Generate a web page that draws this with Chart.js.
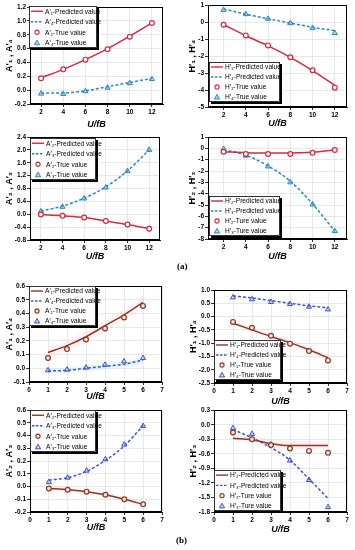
<!DOCTYPE html>
<html>
<head>
<meta charset="utf-8">
<script src="https://cdn.jsdelivr.net/npm/chart.js@4.4.1/dist/chart.umd.min.js"></script>
<style>
  body { margin: 0; background: #fff; width: 355px; height: 550px; position: relative; overflow: hidden; }
  canvas { position: absolute; }
  .tag { position: absolute; font: bold 9px "Liberation Serif", "DejaVu Serif", serif; color: #000; }
</style>
</head>
<body>
<canvas id="c1" width="178" height="130" style="left:0;top:0"></canvas>
<canvas id="c2" width="177" height="130" style="left:178px;top:0"></canvas>
<canvas id="c3" width="178" height="135" style="left:0;top:130px"></canvas>
<canvas id="c4" width="177" height="135" style="left:178px;top:130px"></canvas>
<div class="tag" style="left:177px;top:261px">(a)</div>
<canvas id="c5" width="178" height="127" style="left:0;top:278px"></canvas>
<canvas id="c6" width="177" height="129" style="left:178px;top:278px"></canvas>
<canvas id="c7" width="178" height="145" style="left:0;top:405px"></canvas>
<canvas id="c8" width="177" height="145" style="left:178px;top:405px"></canvas>
<div class="tag" style="left:176px;top:535px">(b)</div>

<script>
// ===============================
// DATA
// ===============================

const xA = [2, 4, 6, 8, 10, 12];
const xB = [1, 2, 3, 4, 5, 6];

// (a) A'1, A'4
const a1Pred = [0.18, 0.3, 0.44, 0.6, 0.78, 0.97];
const a1True = [0.17, 0.3, 0.44, 0.59, 0.77, 0.97];
const a4Pred = [-0.04, -0.04, -0.01, 0.05, 0.11, 0.17];
const a4True = [-0.05, -0.055, -0.015, 0.035, 0.1, 0.16];

// (a) H'1, H'4
const h1Pred = [-0.15, -0.8, -1.4, -2.07, -2.85, -3.72];
const h1True = [-0.15, -0.78, -1.37, -2.07, -2.83, -3.86];
const h4Pred = [0.78, 0.47, 0.2, -0.05, -0.3, -0.5];
const h4True = [0.72, 0.47, 0.2, -0.06, -0.35, -0.64];

// (a) A'2, A'3
const a2Pred = [-0.01, -0.05, -0.1, -0.21, -0.32, -0.45];
const a2True = [-0.01, -0.05, -0.1, -0.21, -0.32, -0.45];
const a3Pred = [0.1, 0.25, 0.5, 0.85, 1.35, 2.0];
const a3True = [0.09, 0.23, 0.49, 0.83, 1.34, 2.0];

// (a) H'2, H'3
const h2Pred = [-0.3, -0.38, -0.42, -0.42, -0.35, -0.15];
const h2True = [-0.3, -0.5, -0.5, -0.5, -0.4, -0.15];
const h3Pred = [-0.1, -0.6, -1.55, -2.9, -4.9, -7.3];
const h3True = [-0.05, -0.65, -1.6, -3.0, -4.95, -7.3];

// (b) A'1, A'4
const bA1Pred = [0.115, 0.165, 0.23, 0.31, 0.39, 0.48];
const bA1True = [0.075, 0.14, 0.21, 0.29, 0.37, 0.455];
const bA4Pred = [-0.02, -0.015, 0.0, 0.015, 0.03, 0.06];
const bA4True = [-0.015, -0.01, 0.005, 0.025, 0.05, 0.075];
const bA1BandHi = [0.15, 0.2, 0.27, 0.35, 0.43, 0.52];
const bA1BandLo = [0.08, 0.13, 0.19, 0.27, 0.35, 0.44];
const bA4BandHi = [0.0, 0.005, 0.02, 0.035, 0.055, 0.085];
const bA4BandLo = [-0.04, -0.035, -0.02, -0.005, 0.01, 0.035];

// (b) H'1, H'4
const bH1Pred = [-0.25, -0.5, -0.75, -0.98, -1.25, -1.55];
const bH1True = [-0.2, -0.42, -0.72, -1.02, -1.3, -1.65];
const bH4Pred = [0.78, 0.7, 0.6, 0.5, 0.4, 0.33];
const bH4True = [0.72, 0.65, 0.55, 0.47, 0.37, 0.27];
const bH1BandHi = [-0.15, -0.4, -0.65, -0.88, -1.13, -1.42];
const bH1BandLo = [-0.35, -0.6, -0.85, -1.08, -1.37, -1.68];

// (b) A'2, A'3
const bA2Pred = [-0.015, -0.025, -0.04, -0.065, -0.1, -0.14];
const bA2True = [-0.015, -0.025, -0.04, -0.065, -0.1, -0.14];
const bA3Pred = [0.05, 0.07, 0.12, 0.205, 0.32, 0.48];
const bA3True = [0.035, 0.07, 0.125, 0.215, 0.33, 0.475];
const bA2BandHi = [0.0, -0.01, -0.025, -0.048, -0.08, -0.115];
const bA2BandLo = [-0.03, -0.04, -0.055, -0.082, -0.12, -0.165];

// (b) H'2, H'3
const bH2Pred = [-0.28, -0.31, -0.39, -0.43, -0.43, -0.43];
const bH2True = [-0.16, -0.3, -0.42, -0.49, -0.54, -0.58];
const bH3Pred = [-0.1, -0.27, -0.47, -0.73, -1.12, -1.52];
const bH3True = [-0.07, -0.19, -0.41, -0.74, -1.14, -1.7];
const bH2BandHi = [-0.2, -0.22, -0.3, -0.33, -0.33, -0.33];
const bH2BandLo = [-0.32, -0.38, -0.46, -0.5, -0.5, -0.5];

// tick labels
const ticksXA = [2, 4, 6, 8, 10, 12];
const ticksXB = [0, 1, 2, 3, 4, 5, 6, 7];
const ticksY1 = [-0.2, 0, 0.2, 0.4, 0.6, 0.8, 1.0, 1.2];
const ticksY2 = [-5, -4, -3, -2, -1, 0, 1];
const ticksY3 = [-0.8, -0.4, 0, 0.4, 0.8, 1.2, 1.6, 2.0, 2.4];
const ticksY4 = [-8, -7, -6, -5, -4, -3, -2, -1, 0, 1];
const ticksY5 = [-0.1, 0, 0.1, 0.2, 0.3, 0.4, 0.5, 0.6];
const ticksY6 = [-2.5, -2.0, -1.5, -1.0, -0.5, 0, 0.5, 1.0];
const ticksY7 = [-0.2, -0.1, 0, 0.1, 0.2, 0.3, 0.4, 0.5, 0.6];
const ticksY8 = [-1.8, -1.5, -1.2, -0.9, -0.6, -0.3, 0, 0.3];

// ===============================
// STYLE
// ===============================

const FONT = '"Liberation Sans", Arial, sans-serif';
const RED = "#d42b3f", BLUE_A = "#2b87c0", TRI_A = "rgba(90,160,215,0.45)";
const BROWN = "#8a3b27", BLUE_B = "#3f55c6", TRI_B = "rgba(110,130,225,0.35)", CIRC_B = "#f3e4d6";
const PINK = "rgba(255,185,200,0.2)", CYAN = "rgba(170,238,238,0.3)";

const pts = (xs, ys) => xs.map((x, i) => ({ x, y: ys[i] }));

function solid(label, xs, ys, color) {
  return { label, kind: "solid", data: pts(xs, ys), borderColor: color, backgroundColor: color,
    borderWidth: 1.5, pointRadius: 0, cubicInterpolationMode: "monotone", fill: false, order: 1 };
}
function dashed(label, xs, ys, color) {
  return { label, kind: "dash", data: pts(xs, ys), borderColor: color, backgroundColor: color,
    borderWidth: 1.5, borderDash: [3, 2], pointRadius: 0, cubicInterpolationMode: "monotone", fill: false, order: 1 };
}
function circles(label, xs, ys, color, fillc) {
  return { label, kind: "circle", data: pts(xs, ys), showLine: false, borderColor: color, backgroundColor: fillc,
    pointStyle: "circle", pointRadius: 2.4, pointBorderWidth: 1.2, order: 0 };
}
function triangles(label, xs, ys, color, fillc) {
  return { label, kind: "tri", data: pts(xs, ys), showLine: false, borderColor: color, backgroundColor: fillc,
    pointStyle: "triangle", pointRadius: 3, pointBorderWidth: 1, order: 0 };
}
function band(xs, hi, lo, color) {
  return [
    { band: true, data: pts(xs, hi), borderWidth: 0, pointRadius: 0, backgroundColor: color,
      fill: "+1", cubicInterpolationMode: "monotone", order: 5 },
    { band: true, data: pts(xs, lo), borderWidth: 0, pointRadius: 0, backgroundColor: color,
      fill: false, cubicInterpolationMode: "monotone", order: 5 }
  ];
}

// frame around the plot box
const frame = {
  id: "frame",
  afterDatasetsDraw(chart) {
    const a = chart.chartArea, ctx = chart.ctx;
    ctx.save();
    ctx.strokeStyle = "#000";
    ctx.lineWidth = 1;
    ctx.strokeRect(Math.round(a.left) + 0.5, Math.round(a.top) + 0.5,
      Math.round(a.right - a.left) - 1, Math.round(a.bottom - a.top) - 1);
    ctx.restore();
  }
};

// boxed legend with drop shadow, drawn inside the plot
const boxLegend = {
  id: "boxLegend",
  afterDatasetsDraw(chart, args, o) {
    const ctx = chart.ctx;
    const items = chart.data.datasets.filter(d => d.kind);
    ctx.save();
    ctx.fillStyle = "#000";
    ctx.fillRect(o.x + 2, o.y + 2, o.w, o.h);
    ctx.fillStyle = "#fff";
    ctx.fillRect(o.x, o.y, o.w, o.h);
    ctx.strokeStyle = "#000";
    ctx.lineWidth = 0.8;
    ctx.strokeRect(o.x + 0.5, o.y + 0.5, o.w - 1, o.h - 1);
    const rowH = o.h / items.length;
    ctx.font = "6.6px " + FONT;
    ctx.textBaseline = "middle";
    items.forEach((d, i) => {
      const cy = o.y + rowH * (i + 0.5);
      const mx = o.x + 8;
      ctx.strokeStyle = d.borderColor;
      ctx.fillStyle = d.backgroundColor;
      ctx.beginPath();
      if (d.kind === "solid" || d.kind === "dash") {
        ctx.lineWidth = 1.4;
        ctx.setLineDash(d.kind === "dash" ? [2.5, 1.5] : []);
        ctx.moveTo(o.x + 2, cy);
        ctx.lineTo(o.x + 14, cy);
        ctx.stroke();
        ctx.setLineDash([]);
      } else if (d.kind === "circle") {
        ctx.lineWidth = 1.1;
        ctx.arc(mx, cy, 2.1, 0, Math.PI * 2);
        ctx.fill();
        ctx.stroke();
      } else {
        ctx.lineWidth = 1;
        ctx.moveTo(mx, cy - 2.6);
        ctx.lineTo(mx + 2.6, cy + 2);
        ctx.lineTo(mx - 2.6, cy + 2);
        ctx.closePath();
        ctx.fill();
        ctx.stroke();
      }
      ctx.fillStyle = "#000";
      ctx.fillText(d.label, o.x + 16, cy + 0.5);
    });
    ctx.restore();
  }
};

function axis(min, max, ticks, dec, title, size, titlePad, horizontal) {
  const tickFont = { family: FONT, size: 6.5, weight: "bold" };
  return {
    type: "linear", min, max,
    afterBuildTicks: s => { s.ticks = ticks.map(v => ({ value: v })); },
    afterFit: s => { if (horizontal) s.height = size; else s.width = size; },
    grid: { color: "#e2e2e2", lineWidth: 0.8, tickColor: "#000", tickLength: 3 },
    border: { color: "#000", width: 1 },
    ticks: { font: tickFont, color: "#000", padding: 1, autoSkip: false, maxRotation: 0,
      callback: v => Number(v).toFixed(dec) },
    title: { display: true, text: title, color: "#000",
      font: { family: FONT, size: 9, weight: "bold", style: horizontal ? "italic" : "normal" },
      padding: horizontal ? { top: 0, bottom: titlePad } : { top: titlePad, bottom: 0 } }
  };
}

function makeChart(id, p) {
  return new Chart(document.getElementById(id), {
    type: "line",
    data: { datasets: p.datasets },
    options: {
      responsive: false, animation: false, devicePixelRatio: 1,
      layout: { padding: { top: p.pad[0], right: p.pad[1], left: 0, bottom: 0 } },
      plugins: { legend: { display: false }, tooltip: { enabled: false }, boxLegend: p.legend },
      scales: {
        x: axis(p.x[0], p.x[1], p.xTicks, 0, "U/fB", p.xh, p.xPad, true),
        y: axis(p.y[0], p.y[1], p.yTicks, p.dec, p.yTitle, p.yw, p.yPad, false)
      }
    },
    plugins: [frame, boxLegend]
  });
}

// ===============================
// (a)
// ===============================

makeChart("c1", {
  datasets: [
    solid("A′₁-Predicted value", xA, a1Pred, RED),
    dashed("A′₄-Predicted value", xA, a4Pred, BLUE_A),
    circles("A′₁-True value", xA, a1True, RED, "#fff"),
    triangles("A′₄-True value", xA, a4True, BLUE_A, TRI_A)
  ],
  x: [1, 13], xTicks: ticksXA, y: [-0.2, 1.2], yTicks: ticksY1, dec: 1,
  yTitle: "A′₁ , A′₄", pad: [7, 15], yw: 30, xh: 26, xPad: 0, yPad: 4.5,
  legend: { x: 29, y: 6, w: 68, h: 42 }
});

makeChart("c2", {
  datasets: [
    solid("H′₁-Predicted value", xA, h1Pred, RED),
    dashed("H′₄-Predicted value", xA, h4Pred, BLUE_A),
    circles("H′₁-True value", xA, h1True, RED, "#fff"),
    triangles("H′₄-True value", xA, h4True, BLUE_A, TRI_A)
  ],
  x: [0.6, 13.1], xTicks: ticksXA, y: [-5, 1], yTicks: ticksY2, dec: 0,
  yTitle: "H′₁ , H′₄", pad: [5, 8], yw: 30, xh: 23, xPad: 1.3, yPad: 9.6,
  legend: { x: 31, y: 62, w: 71, h: 40 }
});

makeChart("c3", {
  datasets: [
    solid("A′₂-Predicted value", xA, a2Pred, RED),
    dashed("A′₃-Predicted value", xA, a3Pred, BLUE_A),
    circles("A′₂-True value", xA, a2True, RED, "#fff"),
    triangles("A′₃-True value", xA, a3True, BLUE_A, TRI_A)
  ],
  x: [1, 13], xTicks: ticksXA, y: [-0.8, 2.4], yTicks: ticksY3, dec: 1,
  yTitle: "A′₂ , A′₃", pad: [7, 18], yw: 30, xh: 25, xPad: 2.6, yPad: 4.5,
  legend: { x: 30, y: 8, w: 66, h: 42 }
});

makeChart("c4", {
  datasets: [
    solid("H′₂-Predicted value", xA, h2Pred, RED),
    dashed("H′₃-Predicted value", xA, h3Pred, BLUE_A),
    circles("H′₂-Ture value", xA, h2True, RED, "#fff"),
    triangles("H′₃-Ture value", xA, h3True, BLUE_A, TRI_A)
  ],
  x: [0.6, 13.1], xTicks: ticksXA, y: [-8, 1], yTicks: ticksY4, dec: 0,
  yTitle: "H′₂ , H′₃", pad: [7, 8], yw: 30, xh: 26, xPad: 2.6, yPad: 9.6,
  legend: { x: 31, y: 66, w: 71, h: 40 }
});

// ===============================
// (b)
// ===============================

makeChart("c5", {
  datasets: [
    solid("A′₁-Predicted value", xB, bA1Pred, BROWN),
    dashed("A′₄-Predicted value", xB, bA4Pred, BLUE_B),
    circles("A′₁-True value", xB, bA1True, BROWN, CIRC_B),
    triangles("A′₄-True value", xB, bA4True, BLUE_B, TRI_B),
    ...band(xB, bA1BandHi, bA1BandLo, PINK),
    ...band(xB, bA4BandHi, bA4BandLo, CYAN)
  ],
  x: [0, 7], xTicks: ticksXB, y: [-0.1, 0.6], yTicks: ticksY5, dec: 1,
  yTitle: "A′₁ , A′₄", pad: [8, 16], yw: 29, xh: 23, xPad: 2.6, yPad: 4.5,
  legend: { x: 29, y: 8, w: 67, h: 40 }
});

makeChart("c6", {
  datasets: [
    solid("H′₁-Predicted value", xB, bH1Pred, BROWN),
    dashed("H′₄-Predicted value", xB, bH4Pred, BLUE_B),
    circles("H′₁-True value", xB, bH1True, BROWN, CIRC_B),
    triangles("H′₄-True value", xB, bH4True, BLUE_B, TRI_B),
    ...band(xB, bH1BandHi, bH1BandLo, PINK)
  ],
  x: [0, 7], xTicks: ticksXB, y: [-2.5, 1.0], yTicks: ticksY6, dec: 1,
  yTitle: "H′₁ , H′₄", pad: [12, 8], yw: 36, xh: 24, xPad: 0, yPad: 10,
  legend: { x: 36, y: 62, w: 67, h: 40 }
});

makeChart("c7", {
  datasets: [
    solid("A′₂-Predicted value", xB, bA2Pred, BROWN),
    dashed("A′₃-Predicted value", xB, bA3Pred, BLUE_B),
    circles("A′₂-True value", xB, bA2True, BROWN, CIRC_B),
    triangles("A′₃-True value", xB, bA3True, BLUE_B, TRI_B),
    ...band(xB, bA2BandHi, bA2BandLo, PINK)
  ],
  x: [0, 7], xTicks: ticksXB, y: [-0.2, 0.6], yTicks: ticksY7, dec: 1,
  yTitle: "A′₂ , A′₃", pad: [5, 16], yw: 30, xh: 38, xPad: 16.6, yPad: 4.5,
  legend: { x: 30, y: 5, w: 66, h: 42 }
});

makeChart("c8", {
  datasets: [
    solid("H′₂-Predicted value", xB, bH2Pred, BROWN),
    dashed("H′₃-Predicted value", xB, bH3Pred, BLUE_B),
    circles("H′₂-Ture value", xB, bH2True, BROWN, CIRC_B),
    triangles("H′₃-Ture value", xB, bH3True, BLUE_B, TRI_B),
    ...band(xB, bH2BandHi, bH2BandLo, PINK)
  ],
  x: [0, 7], xTicks: ticksXB, y: [-1.8, 0.3], yTicks: ticksY8, dec: 1,
  yTitle: "H′₂ , H′₃", pad: [5, 8], yw: 36, xh: 38, xPad: 15, yPad: 10,
  legend: { x: 36, y: 65, w: 67, h: 41 }
});
</script>
</body>
</html>
